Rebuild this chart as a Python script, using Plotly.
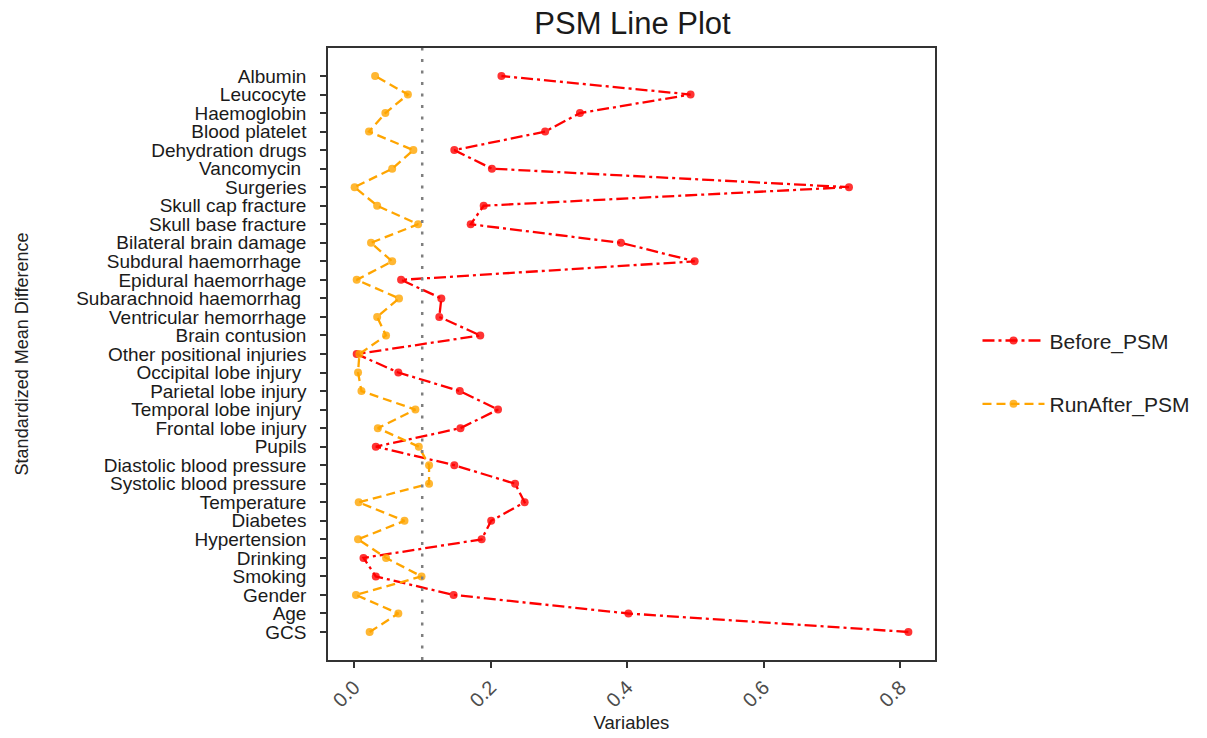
import plotly.graph_objects as go

variables = ["GCS", "Age", "Gender", "Smoking", "Drinking", "Hypertension", "Diabetes",
             "Temperature", "Systolic blood pressure", "Diastolic blood pressure", "Pupils",
             "Frontal lobe injury", "Temporal lobe injury ", "Parietal lobe injury",
             "Occipital lobe injury ", "Other positional injuries", "Brain contusion",
             "Ventricular hemorrhage", "Subarachnoid haemorrhag ", "Epidural haemorrhage",
             "Subdural haemorrhage ", "Bilateral brain damage", "Skull base fracture",
             "Skull cap fracture", "Surgeries", "Vancomycin ", "Dehydration drugs",
             "Blood platelet", "Haemoglobin", "Leucocyte", "Albumin"]

before_psm = [0.812, 0.402, 0.146, 0.032, 0.014, 0.187, 0.201, 0.250, 0.236, 0.147, 0.032,
              0.156, 0.211, 0.155, 0.065, 0.004, 0.185, 0.125, 0.128, 0.069, 0.499,
              0.391, 0.171, 0.190, 0.725, 0.202, 0.147, 0.280, 0.331, 0.493, 0.216]

after_psm = [0.023, 0.065, 0.003, 0.099, 0.047, 0.006, 0.074, 0.007, 0.110, 0.110, 0.095,
             0.035, 0.090, 0.011, 0.006, 0.008, 0.047, 0.034, 0.066, 0.004, 0.056,
             0.025, 0.094, 0.034, 0.001, 0.056, 0.087, 0.022, 0.046, 0.079, 0.031]

threshold = 0.1
x_ticks = [0.0, 0.2, 0.4, 0.6, 0.8]

FONT = "Liberation Sans, Arial, sans-serif"

fig = go.Figure()
fig.add_trace(go.Scatter(
    x=before_psm, y=variables, mode="lines+markers", name="Before_PSM",
    line=dict(color="#FF0000", dash="12px,4px,3px,4px", width=2.3),
    marker=dict(color="rgba(255,0,0,0.8)", size=8),
    legendgroup="a"))
fig.add_trace(go.Scatter(
    x=after_psm, y=variables, mode="lines+markers", name="RunAfter_PSM",
    line=dict(color="#FFA500", dash="9px,5px", width=2.3),
    marker=dict(color="rgba(255,165,0,0.8)", size=8),
    legendgroup="b"))

fig.add_vline(x=threshold, line=dict(color="#7f7f7f", dash="3px,8.5px", width=2.5))

fig.update_layout(
    width=1207, height=738,
    margin=dict(l=328, r=264, t=48, b=78),
    plot_bgcolor="white", paper_bgcolor="white",
    font=dict(family=FONT, size=16, color="#1a1a1a"),
    title=dict(text="PSM Line Plot", x=(328 + 937) / 2 / 1207, xanchor="center",
               y=1 - 23 / 738, yanchor="middle",
               font=dict(size=31, color="#1a1a1a", family=FONT)),
    legend=dict(x=1.07, xanchor="left", y=0.47, yanchor="middle",
                tracegroupgap=33, itemwidth=62, font=dict(size=21, color="#222"),
                bgcolor="rgba(0,0,0,0)"),
    showlegend=True,
)

fig.update_xaxes(
    range=[-0.038, 0.851], tickvals=x_ticks, ticktext=[f"{v:.1f}" for v in x_ticks],
    tickangle=-45, ticks="outside", ticklen=6, tickwidth=2, tickcolor="#333",
    showgrid=False, zeroline=False, showline=True, linecolor="#333", linewidth=1.5,
    mirror=True, tickfont=dict(size=20, color="#4d4d4d"), automargin=False,
    title=dict(text="Variables", font=dict(size=18.5, color="#222"), standoff=6))

fig.update_yaxes(
    type="category", categoryorder="array", categoryarray=variables,
    tickmode="array", tickvals=variables, ticktext=variables,
    range=[-1.51, len(variables) - 1 + 1.51],
    ticks="outside", ticklen=6, tickwidth=2, tickcolor="#333", ticklabelstandoff=10,
    showgrid=False, zeroline=False, showline=True, linecolor="#333", linewidth=1.5,
    mirror=True, tickfont=dict(size=19, color="#1a1a1a"), automargin=False,
    title=dict(text="Standardized Mean Difference", font=dict(size=18, color="#222"),
               standoff=43))

fig.write_html("out.html")
